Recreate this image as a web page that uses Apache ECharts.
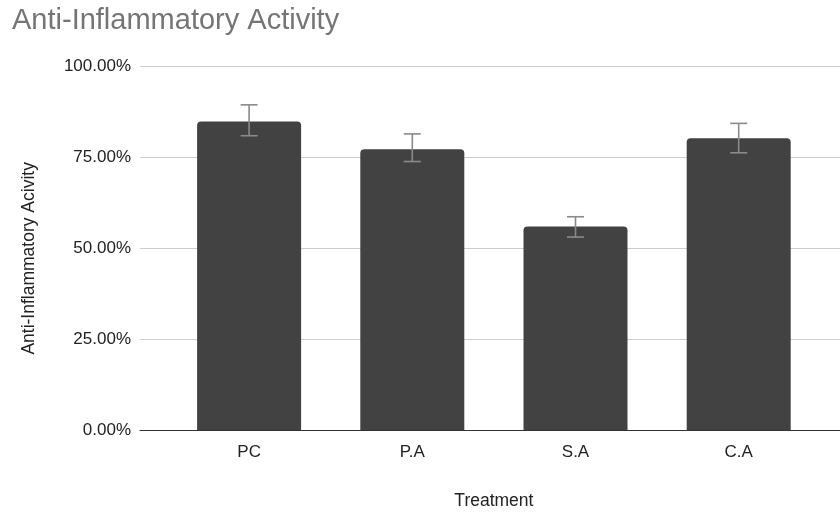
<!DOCTYPE html>
<html>
<head>
<meta charset="utf-8">
<script src="https://cdn.jsdelivr.net/npm/echarts@6/dist/echarts.min.js"></script>
<style>html,body{margin:0;padding:0;background:#fff}#c{width:840px;height:512px}</style>
</head>
<body>
<div id="c"></div>
<script>
var categories = ['PC', 'P.A', 'S.A', 'C.A'];
var values = [0.849, 0.773, 0.560, 0.803];
var errLow = [0.810, 0.739, 0.531, 0.763];
var errHigh = [0.895, 0.815, 0.587, 0.844];
var yTicks = [0, 0.25, 0.5, 0.75, 1.0];

var FONT = 'Arial, "Liberation Sans", sans-serif';
var chart = echarts.init(document.getElementById('c'));
var errData = categories.map(function (c, i) { return [i, errLow[i], errHigh[i]]; });

chart.setOption({
  animation: false,
  title: {
    text: 'Anti-Inflammatory Activity',
    left: 12, top: 6, padding: 0,
    textStyle: { color: '#757575', fontSize: 29, fontWeight: 'normal', fontFamily: FONT }
  },
  grid: [
    { left: 167.5, right: 19.7, top: 66.7, bottom: 82, containLabel: false, outerBoundsMode: 'none' },
    { left: 140, right: 0, top: 66.7, bottom: 82, containLabel: false, outerBoundsMode: 'none' }
  ],
  xAxis: [
    {
      type: 'category', gridIndex: 0, data: categories,
      axisLine: { show: false }, axisTick: { show: false },
      axisLabel: { color: '#222', fontSize: 17, fontFamily: FONT, margin: 14 },
      name: 'Treatment', nameLocation: 'middle', nameGap: 62.5,
      nameTextStyle: { color: '#222', fontSize: 17.5, fontFamily: FONT }
    },
    {
      type: 'value', gridIndex: 1, min: 0, max: 1,
      axisLine: { show: true, onZero: false, lineStyle: { color: '#333', width: 1 } },
      axisTick: { show: false }, axisLabel: { show: false }, splitLine: { show: false }
    }
  ],
  yAxis: [
    {
      type: 'value', gridIndex: 0, min: 0, max: 1, interval: 0.25,
      axisLine: { show: false }, axisTick: { show: false },
      axisLabel: { show: false }, splitLine: { show: false }
    },
    {
      type: 'value', gridIndex: 1, min: 0, max: 1, interval: 0.25,
      axisLine: { show: false }, axisTick: { show: false },
      axisLabel: {
        color: '#222', fontSize: 17, fontFamily: FONT, margin: 9,
        formatter: function (v) { return (v * 100).toFixed(2) + '%'; }
      },
      splitLine: { show: true, lineStyle: { color: '#cccccc', width: 1 } },
      name: 'Anti-Inflammatory Acivity', nameLocation: 'middle', nameGap: 102,
      nameTextStyle: { color: '#222', fontSize: 17.5, fontFamily: FONT, padding: [0, 20, 0, 0] }
    }
  ],
  series: [
    {
      type: 'bar', xAxisIndex: 0, yAxisIndex: 0, data: values,
      barWidth: 104,
      itemStyle: { color: '#424242', borderRadius: [4, 4, 0, 0] }
    },
    {
      type: 'custom', xAxisIndex: 0, yAxisIndex: 0, data: errData, z: 10,
      renderItem: function (params, api) {
        var x = api.value(0);
        var lo = api.coord([x, api.value(1)]);
        var hi = api.coord([x, api.value(2)]);
        var hw = 8.5;
        var st = { stroke: '#8a8a8a', lineWidth: 1.6 };
        return {
          type: 'group',
          children: [
            { type: 'line', shape: { x1: lo[0], y1: lo[1], x2: hi[0], y2: hi[1] }, style: st },
            { type: 'line', shape: { x1: hi[0] - hw, y1: hi[1], x2: hi[0] + hw, y2: hi[1] }, style: st },
            { type: 'line', shape: { x1: lo[0] - hw, y1: lo[1], x2: lo[0] + hw, y2: lo[1] }, style: st }
          ]
        };
      }
    }
  ]
});
</script>
</body>
</html>
